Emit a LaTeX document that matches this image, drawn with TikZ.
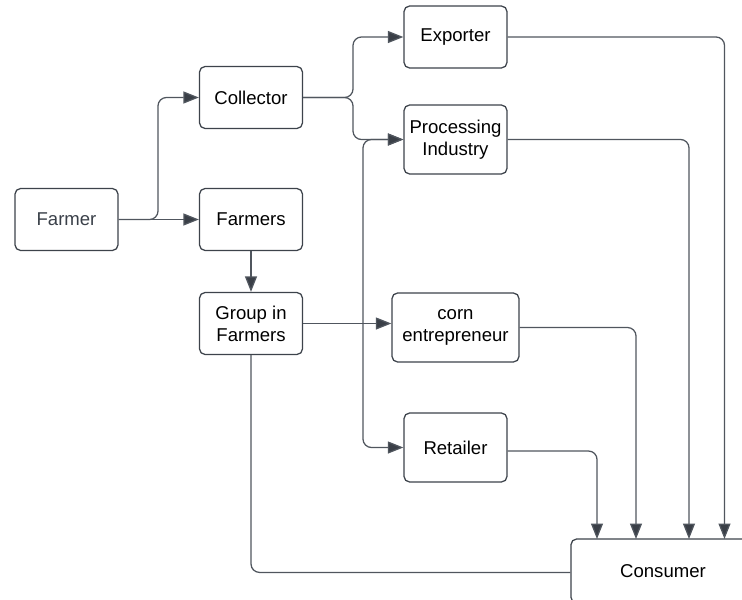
\documentclass[tikz,border=0pt]{standalone}
\usepackage{fontspec}
\setmainfont{Liberation Sans}
\usepackage{tikz}
\usetikzlibrary{arrows.meta}

\definecolor{boxline}{HTML}{3D434B}
\definecolor{connline}{HTML}{50565E}
\definecolor{tipfill}{HTML}{3A3F47}
\definecolor{greytext}{HTML}{3A4049}

\tikzset{
    box/.style={draw=boxline, line width=0.9pt, rounded corners=4pt, fill=white, align=center,
        font=\fontsize{13.2pt}{15.6pt}\selectfont, minimum width=2.575cm, minimum height=1.55cm, inner sep=2pt},
    tall/.style={minimum height=1.725cm},
    conn/.style={draw=connline, line width=0.9pt, rounded corners=6pt},
    arr/.style={conn, -{Triangle[length=11pt,width=8.5pt,fill=tipfill]}}
}

\begin{document}
\begin{tikzpicture}[x=0.025cm, y=-0.025cm]
        \clip (0,0) rectangle (742,599);
        \node[box, text=greytext] (farmer) at (66.5,219.5) {Farmer};
        \node[box] (coll) at (251,97.5) {Collector};
        \node[box] (fmrs) at (251,219.5) {Farmers};
        \node[box] (grp) at (251,323.5) {Group in\\Farmers};
        \node[box] (exp) at (455.5,37) {Exporter};
        \node[box, tall] (proc) at (455.5,139.5) {Processing\\Industry};
        \node[box, tall, minimum width=3.175cm] (corn) at (455.5,327.5) {corn\\entrepreneur};
        \node[box, tall] (ret) at (455.5,447.5) {Retailer};
        \node[box, minimum width=4.6cm, minimum height=1.6cm] (cons) at (663,571) {Consumer};
        \coordinate (split) at (363,323.5);

        \draw[arr] (farmer.east) -- (158,219.5) |- (coll.west);
        \draw[arr] (farmer.east) -- (fmrs.west);
        \draw[arr] (fmrs.south) -- (grp.north);
        \draw[arr] (coll.east) -- (353,97.5) |- (exp.west);
        \draw[arr] (coll.east) -- (353,97.5) |- (proc.west);
        \draw[arr] (grp.east) -- (corn.west |- grp.east);
        \draw[arr] (split) |- (proc.west);
        \draw[arr] (split) |- (ret.west);
        \draw[conn] (grp.south) |- ([yshift=-1pt]cons.west);
        \draw[arr] (exp.east) -| (724.5,539);
        \draw[arr] (proc.east) -| (689,539);
        \draw[arr] (corn.east) -| (636,539);
        \draw[arr] ([yshift=-2.5pt]ret.east) -| (597,539);
    \end{tikzpicture}
\end{document}
